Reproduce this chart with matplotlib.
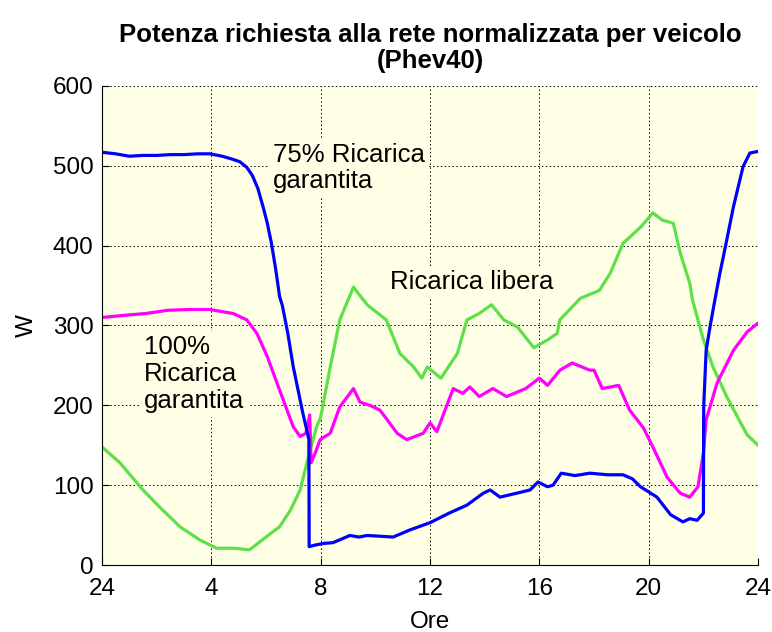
import matplotlib
matplotlib.use('Agg')
import matplotlib.pyplot as plt

plt.rcParams['font.family'] = ['Liberation Sans', 'DejaVu Sans']

# ore (0 = mezzanotte) e potenze [W]
x_blu = [0, 0.5, 1.0, 1.5, 2.0, 2.5, 3.0, 3.5, 3.95, 4.4, 4.8, 5.05, 5.3, 5.5, 5.7, 5.9, 6.05, 6.2, 6.35, 6.5, 6.6, 6.8, 7.0, 7.2, 7.35, 7.5, 7.57,
         7.58, 7.8, 8.1, 8.45, 8.8, 9.07, 9.4, 9.7, 10.2, 10.65, 11.27, 12.0, 12.7, 13.35, 13.95, 14.2, 14.56, 15.3, 15.66, 15.95,
         16.3, 16.5, 16.8, 17.3, 17.85, 18.5, 19.06, 19.4, 19.7, 20.3, 20.8, 21.25, 21.5, 21.77, 22.0,
         22.01, 22.1, 22.25, 22.43, 22.6, 22.8, 23.1, 23.45, 23.7, 24.0]
y_blu = [517, 515, 512, 513, 513, 514, 514, 515, 515, 512, 508, 505, 498, 488, 472, 448, 428, 403, 372, 336, 325, 290, 248, 215, 190, 168, 157,
         23, 25, 27, 28, 33, 37, 35, 37, 36, 35, 44, 53, 65, 75, 90, 94, 85, 91, 94, 104,
         98, 100, 115, 112, 115, 113, 113, 108, 98, 85, 63, 54, 58, 56, 65,
         198, 269, 300, 334, 365, 398, 449, 499, 516, 518]

x_mag = [0, 0.9, 1.6, 2.4, 3.2, 3.95, 4.8, 5.3, 5.67, 6.05, 6.5, 7.0, 7.25, 7.46, 7.6, 7.65, 7.8, 7.98, 8.35, 8.7, 9.2, 9.44,
         9.8, 10.17, 10.8, 11.15, 11.75, 12.0, 12.25, 12.85, 13.2, 13.46, 13.8, 14.3, 14.8, 15.5, 16.0, 16.3, 16.75,
         17.2, 17.85, 18.0, 18.3, 18.9, 19.3, 19.8, 20.15, 20.67, 21.15, 21.5, 21.8, 22.0, 22.1, 22.5, 23.1, 23.6, 24.0]
y_mag = [310, 313, 315, 319, 320, 320, 315, 307, 290, 261, 219, 173, 161, 165, 188, 128, 140, 157, 165, 198, 221, 204,
         200, 194, 165, 157, 165, 178, 167, 221, 215, 223, 211, 221, 211, 221, 234, 225, 244,
         253, 244, 244, 221, 225, 194, 172, 148, 110, 90, 85, 98, 140, 182, 228, 269, 292, 303]

x_ver = [0, 0.66, 1.5, 2.1, 2.85, 3.6, 4.2, 4.8, 5.4, 6.0, 6.5, 6.9, 7.25, 7.55, 7.85, 8.0, 8.35, 8.7, 9.2, 9.7, 10.4, 10.9,
         11.4, 11.7, 11.9, 12.4, 13.0, 13.35, 13.8, 14.25, 14.7, 15.2, 15.8, 16.3, 16.65, 16.75, 17.5, 18.2, 18.6, 19.06,
         19.7, 20.15, 20.5, 20.9, 21.15, 21.5, 21.6, 22.0, 22.35, 22.85, 23.3, 23.6, 24.0]
y_ver = [148, 128, 94, 73, 48, 31, 21, 21, 19, 35, 48, 69, 94, 135, 173, 185, 248, 307, 348, 326, 307, 265,
         248, 234, 248, 234, 265, 307, 315, 326, 307, 298, 272, 282, 290, 307, 334, 344, 366, 403,
         423, 441, 432, 428, 391, 353, 332, 282, 248, 211, 182, 163, 150]

ore_ticks = [0, 4, 8, 12, 16, 20, 24]
ore_labels = ['24', '4', '8', '12', '16', '20', '24']

fig = plt.figure(figsize=(7.72, 6.32), dpi=100)
ax = fig.add_axes([0.132, 0.106, 0.85, 0.758])
sfondo = '#FFFFE5'
ax.set_facecolor(sfondo)

ax.plot(x_ver, y_ver, color='#5EE04A', linewidth=2.3)
ax.plot(x_mag, y_mag, color='#FF00FF', linewidth=2.3)
ax.plot(x_blu, y_blu, color='#0000FF', linewidth=2.3)

ax.set_xlim(0, 24)
ax.set_ylim(0, 600)
ax.set_xticks(ore_ticks)
ax.set_xticklabels(ore_labels)
ax.set_yticks(range(0, 601, 100))
ax.tick_params(axis='both', labelsize=17.5, direction='in', length=5)
ax.tick_params(axis='x', pad=9)
ax.tick_params(axis='y', pad=6)
ax.grid(True, color='black', linestyle=(0, (1.5, 2.5)), linewidth=0.7)
ax.spines['top'].set_visible(False)
ax.spines['right'].set_visible(False)

ax.set_xlabel('Ore', fontsize=17.5, labelpad=8)
ax.set_ylabel('W', fontsize=17.5, labelpad=11)
ax.set_title('Potenza richiesta alla rete normalizzata per veicolo\n(Phev40)',
             fontsize=18.5, fontweight='bold', pad=13, linespacing=1.1)

box = dict(facecolor=sfondo, edgecolor='none', pad=3)
ax.text(6.26, 528, '75% Ricarica\ngarantita', fontsize=18.5, va='top', ha='left',
        bbox=box, linespacing=1.1)
ax.text(10.54, 369, 'Ricarica libera', fontsize=18.5, va='top', ha='left', bbox=box)
ax.text(1.55, 288, '100%\nRicarica\ngarantita', fontsize=18.5, va='top', ha='left',
        bbox=box, linespacing=1.15)

fig.savefig('out.png', dpi=100, facecolor='white')
